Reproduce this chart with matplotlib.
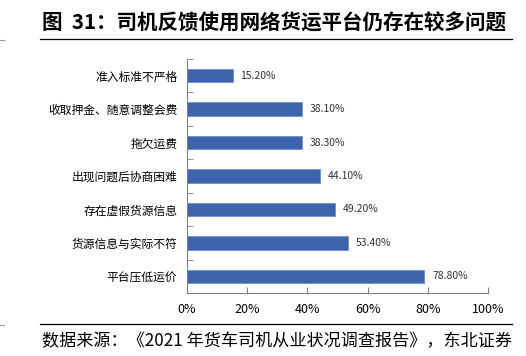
import numpy as np
import matplotlib.pyplot as plt
from matplotlib.lines import Line2D

plt.rcParams['font.family'] = ['Noto Sans CJK SC', 'DejaVu Sans']

# Data (top to bottom as shown)
categories = ['准入标准不严格', '收取押金、随意调整会费', '拖欠运费', '出现问题后协商困难',
              '存在虚假货源信息', '货源信息与实际不符', '平台压低运价']
values = [15.2, 38.1, 38.3, 44.1, 49.2, 53.4, 78.8]
xticks = [0, 20, 40, 60, 80, 100]

fig = plt.figure(figsize=(5.26, 3.56), dpi=100)
ax = fig.add_axes([187/526, 1-293/356, 301/526, 234/356])

y = np.arange(len(categories))[::-1]
ax.barh(y, values, height=0.4, color='#3D64AD', edgecolor='#6F8FC8', linewidth=0.6)
for yi, v in zip(y, values):
    ax.text(v + 2.6, yi, f'{v:.2f}%', va='center', ha='left', fontsize=7.5, color='#333333')

ax.set_xlim(0, 100)
ax.set_ylim(-0.5, len(categories) - 0.5)
ax.set_xticks(xticks)
ax.set_xticklabels([f'{t}%' for t in xticks], fontsize=9)
ax.set_yticks(y)
ax.set_yticklabels(categories, fontsize=8.5)
ax.set_yticks(np.arange(-0.5, len(categories), 1), minor=True)
ax.tick_params(axis='y', which='major', length=0, pad=7)
ax.tick_params(axis='y', which='minor', length=4, direction='in', color='#808080')
ax.tick_params(axis='x', length=4, direction='in', color='#808080', pad=7)
for s in ['top', 'right']:
    ax.spines[s].set_visible(False)
for s in ['left', 'bottom']:
    ax.spines[s].set_color('#808080')
    ax.spines[s].set_linewidth(0.8)

fig.text(42/526, 1-23/356, '图  31：司机反馈使用网络货运平台仍存在较多问题', fontsize=14.8,
         fontweight='bold', va='center', ha='left')
fig.add_artist(Line2D([40/526, 512/526], [1-39/356, 1-39/356], color='black', lw=0.9))
fig.add_artist(Line2D([40/526, 512/526], [1-324/356, 1-324/356], color='black', lw=0.9))
fig.add_artist(Line2D([0, 4/526], [1-40/356, 1-40/356], color='#999999', lw=0.8))
fig.add_artist(Line2D([0, 4/526], [1-325/356, 1-325/356], color='#999999', lw=0.8))
fig.text(42/526, 1-341/356, '数据来源：《2021 年货车司机从业状况调查报告》，东北证券', fontsize=12.3,
         va='center', ha='left')

fig.savefig('out.png', dpi=100)
